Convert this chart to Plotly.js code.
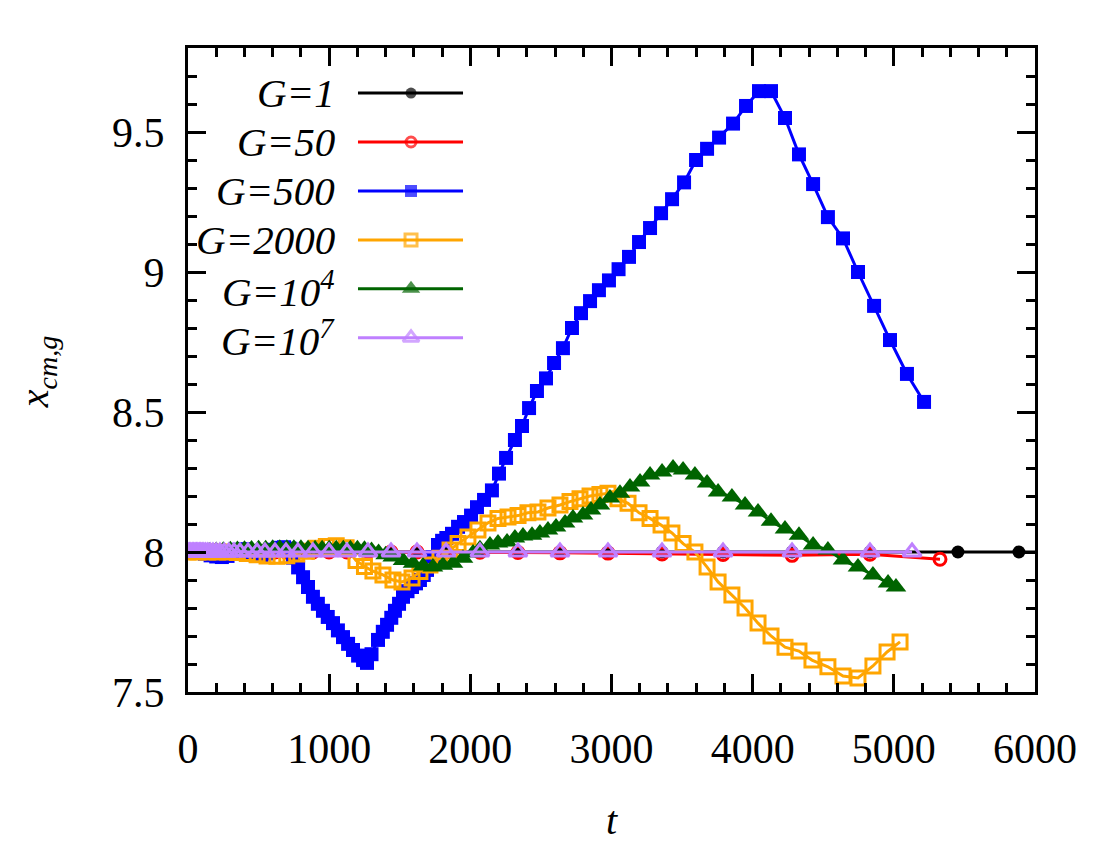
<!DOCTYPE html>
<html>
<head>
<meta charset="utf-8">
<script src="https://cdn.plot.ly/plotly-3.0.1.min.js"></script>
<style>html,body{margin:0;padding:0;background:#fff}#chart{width:1100px;height:850px}</style>
</head>
<body>
<div id="chart"></div>
<script>
// ---------------- data ----------------
const seriesNames = ['G=1', 'G=50', 'G=500', 'G=2000', 'G=10<sup>4</sup>', 'G=10<sup>7</sup>'];

const tG1 = [0,10,20,30,40,50,60,70,80,90,100,112,125,140,157,177,200,226,256,289,326,368,425,489,545,616,694,779,885,999,1126,1275,1438,1622,1828,2068,2337,2635,2975,3358,3790,4279,4831,5454,5886,6200];
const yG1 = [8,8,8,8,8,8,8,8,8,8,8,8,8,8,8,8,8,8,8,8,8,8,8,8,8,8,8,8,8,8,8,8,8,8,8,8,8,8,8,8,8,8,8,8,8,8];

const tG50 = [0,10,20,30,40,50,60,70,80,90,100,112,125,140,157,177,200,226,256,289,326,368,425,489,545,616,694,779,885,999,1126,1275,1438,1622,1828,2068,2337,2635,2975,3358,3790,4279,4831,5327];
const yG50 = [8,8,8,8,8,8,8,8,8,8,8,8,8,8,8,8,8,8,8,8,8,8,8,8,8,8,8,8,8,8,8,8,8,8,8,7.999,7.998,7.997,7.996,7.993,7.991,7.988,7.992,7.974];

const tG500 = [0,40,80,120,160,200,240,280,320,360,400,440,480,520,560,600,640,680,720,744,780,815,850,885,920,956,990,1027,1062,1098,1134,1169,1205,1240,1268,1300,1346,1380,1410,1440,1466,1495,1523,1555,1587,1615,1643,1670,1693,1715,1735,1771,1800,1830,1870,1913,1955,2005,2047,2097,2153,2203,2253,2316,2366,2416,2472,2536,2593,2656,2720,2784,2848,2911,2982,3050,3124,3195,3273,3351,3429,3514,3599,3677,3762,3861,3953,4045,4130,4229,4328,4428,4533,4640,4746,4860,4973,5093,5214];
const yG500 = [8.0,8.0,7.998,7.994,7.988,7.984,7.982,7.986,7.996,8.008,8.01,8.0,7.988,7.986,7.995,8.008,8.015,8.017,8.012,7.98,7.945,7.91,7.875,7.84,7.815,7.79,7.768,7.746,7.72,7.696,7.672,7.65,7.63,7.614,7.604,7.635,7.686,7.715,7.74,7.765,7.79,7.815,7.84,7.86,7.875,7.888,7.9,7.918,7.936,7.96,7.982,8.025,8.04,8.05,8.065,8.09,8.107,8.13,8.16,8.186,8.22,8.28,8.336,8.40,8.45,8.514,8.575,8.62,8.675,8.728,8.80,8.853,8.896,8.935,8.97,9.01,9.054,9.107,9.157,9.21,9.26,9.32,9.40,9.44,9.48,9.53,9.593,9.646,9.646,9.55,9.42,9.314,9.196,9.12,9.0,8.879,8.757,8.636,8.536];

const tG2000 = [0,70,140,210,280,350,420,490,560,630,700,770,840,910,980,1050,1120,1190,1250,1310,1381,1452,1516,1587,1643,1714,1785,1856,1913,1983,2054,2125,2196,2267,2338,2408,2479,2550,2635,2706,2777,2848,2918,2975,3046,3117,3195,3273,3351,3428,3507,3591,3677,3755,3853,3946,4038,4130,4229,4328,4420,4533,4640,4746,4852,4952,5044];
const yG2000 = [8.0,8.0,8.0,8.0,8.0,7.998,7.995,7.99,7.986,7.985,7.987,7.993,8.003,8.013,8.02,8.022,8.015,7.97,7.948,7.932,7.918,7.9,7.893,7.907,7.93,7.954,7.978,8.007,8.03,8.054,8.079,8.104,8.12,8.125,8.13,8.14,8.143,8.157,8.168,8.18,8.19,8.2,8.205,8.21,8.19,8.174,8.14,8.12,8.096,8.068,8.03,8.0,7.946,7.893,7.846,7.8,7.746,7.7,7.66,7.646,7.614,7.59,7.557,7.55,7.593,7.643,7.679];

const tG1e4 = [0,50,100,150,200,250,300,350,400,450,500,550,600,650,700,750,800,850,900,950,1000,1050,1100,1150,1200,1250,1300,1350,1400,1450,1523,1594,1665,1735,1806,1877,1948,2019,2068,2139,2196,2260,2316,2373,2437,2493,2550,2607,2671,2727,2798,2855,2918,2989,3060,3131,3202,3273,3358,3436,3507,3591,3677,3755,3853,3946,4038,4130,4229,4328,4428,4533,4640,4746,4852,4959,5015];
const yG1e4 = [8.0,8.001,8.002,8.004,8.005,8.006,8.008,8.009,8.01,8.011,8.012,8.012,8.013,8.013,8.013,8.013,8.013,8.012,8.012,8.012,8.012,8.012,8.012,8.012,8.012,8.01,8.005,7.998,7.99,7.982,7.97,7.96,7.95,7.946,7.953,7.96,7.978,7.996,8.012,8.025,8.032,8.036,8.05,8.057,8.06,8.068,8.079,8.089,8.104,8.121,8.132,8.15,8.168,8.193,8.21,8.232,8.25,8.275,8.286,8.3,8.293,8.275,8.246,8.214,8.196,8.168,8.143,8.11,8.082,8.06,8.025,8.007,7.971,7.946,7.918,7.889,7.875];

const tG1e7 = [0,10,20,30,40,50,60,70,80,90,100,112,125,140,157,177,200,226,256,289,326,368,425,489,545,616,694,779,885,999,1126,1275,1438,1622,1828,2068,2337,2635,2975,3358,3790,4279,4831,5129];
const yG1e7 = [8,8,8,8,8,8,8,8,8,8,8,8,8,8,8,8,8,8,8,8,8,8,8,8,8,8,8,8,8,8,8,8,8,8,8,8,8,8,8,8,8,8,8,8];

const xTickVals = [0,1000,2000,3000,4000,5000,6000];
const yTickVals = [7.5,8,8.5,9,9.5];

// ---------------- styles ----------------
const styles = [
  {color:'#000000', symbol:'circle',           size:13, lw:0},
  {color:'#ff0000', symbol:'circle-open',      size:12, lw:3},
  {color:'#0000ff', symbol:'square',           size:14, lw:0},
  {color:'#ffa500', symbol:'square-open',      size:14, lw:3},
  {color:'#006400', symbol:'triangle-up',      size:18, lw:0},
  {color:'#bf80ff', symbol:'triangle-up-open', size:16, lw:3}
];
const tData = [tG1, tG50, tG500, tG2000, tG1e4, tG1e7];
const yData = [yG1, yG50, yG500, yG2000, yG1e4, yG1e7];

const FONT = 'Liberation Serif';
const traces = [];
for (let i = 0; i < tData.length; i++) {
  const s = styles[i];
  traces.push({
    x: tData[i], y: yData[i], type:'scatter', mode:'lines+markers',
    line:{color:s.color, width:3},
    marker:{symbol:s.symbol, size:s.size, color:s.color, line:{color:s.color, width:s.lw}},
    cliponaxis:true, hoverinfo:'skip', showlegend:false
  });
}

// custom legend (text to the left of the sample), in an overlay 0..1 axis
const legRowY = [0.930, 0.854, 0.778, 0.702, 0.626, 0.550];
const legX = {text:0.176, x0:0.2007, xm:0.2633, x1:0.3247};
const annotations = [];
for (let i = 0; i < seriesNames.length; i++) {
  const s = styles[i];
  traces.push({
    x:[legX.x0, legX.xm, legX.x1], y:[legRowY[i], legRowY[i], legRowY[i]],
    xaxis:'x2', yaxis:'y2', type:'scatter', mode:'lines+markers',
    line:{color:s.color, width:3},
    marker:{symbol:s.symbol, size:[0, s.size - 2, 0], color:s.color, line:{color:s.color, width:s.lw}},
    hoverinfo:'skip', showlegend:false
  });
  annotations.push({
    xref:'paper', yref:'paper', x:legX.text, y:legRowY[i], xanchor:'right', yanchor:'middle',
    text:'<i>' + seriesNames[i] + '</i>', showarrow:false,
    font:{family:FONT, size:41, color:'#000'}
  });
}
annotations.push({
  xref:'paper', yref:'paper', x:0.5006, y:-0.199, xanchor:'center', yanchor:'middle',
  text:'<i>t</i>', showarrow:false, font:{family:FONT, size:40, color:'#000'}
});
annotations.push({
  xref:'paper', yref:'paper', x:-0.178, y:0.497, xanchor:'center', yanchor:'middle',
  text:'<i>x<sub>cm,g</sub></i>', textangle:-90, showarrow:false, font:{family:FONT, size:40, color:'#000'}
});

const axisCommon = {
  ticks:'inside', ticklen:18, tickwidth:3, tickcolor:'#000',
  showline:true, linewidth:3, linecolor:'#000', mirror:'ticks',
  showgrid:false, zeroline:false,
  tickfont:{family:FONT, size:42, color:'#000'}
};

const layout = {
  width:1100, height:850,
  margin:{l:188, r:65, t:48, b:158},
  paper_bgcolor:'#fff', plot_bgcolor:'#fff',
  font:{family:FONT, color:'#000'},
  showlegend:false,
  xaxis:Object.assign({}, axisCommon, {
    range:[0,6000], tickvals:xTickVals, ticklabelstandoff:18,
    minor:{dtick:200, tick0:0, ticks:'inside', ticklen:9, tickwidth:3, tickcolor:'#000', showgrid:false}
  }),
  yaxis:Object.assign({}, axisCommon, {
    range:[7.5,9.8], tickvals:yTickVals, ticklabelstandoff:12,
    minor:{dtick:0.1, tick0:7.5, ticks:'inside', ticklen:9, tickwidth:3, tickcolor:'#000', showgrid:false}
  }),
  xaxis2:{overlaying:'x', range:[0,1], visible:false, fixedrange:true},
  yaxis2:{overlaying:'y', range:[0,1], visible:false, fixedrange:true},
  annotations:annotations
};

Plotly.newPlot('chart', traces, layout, {staticPlot:true, displayModeBar:false});
</script>
</body>
</html>
